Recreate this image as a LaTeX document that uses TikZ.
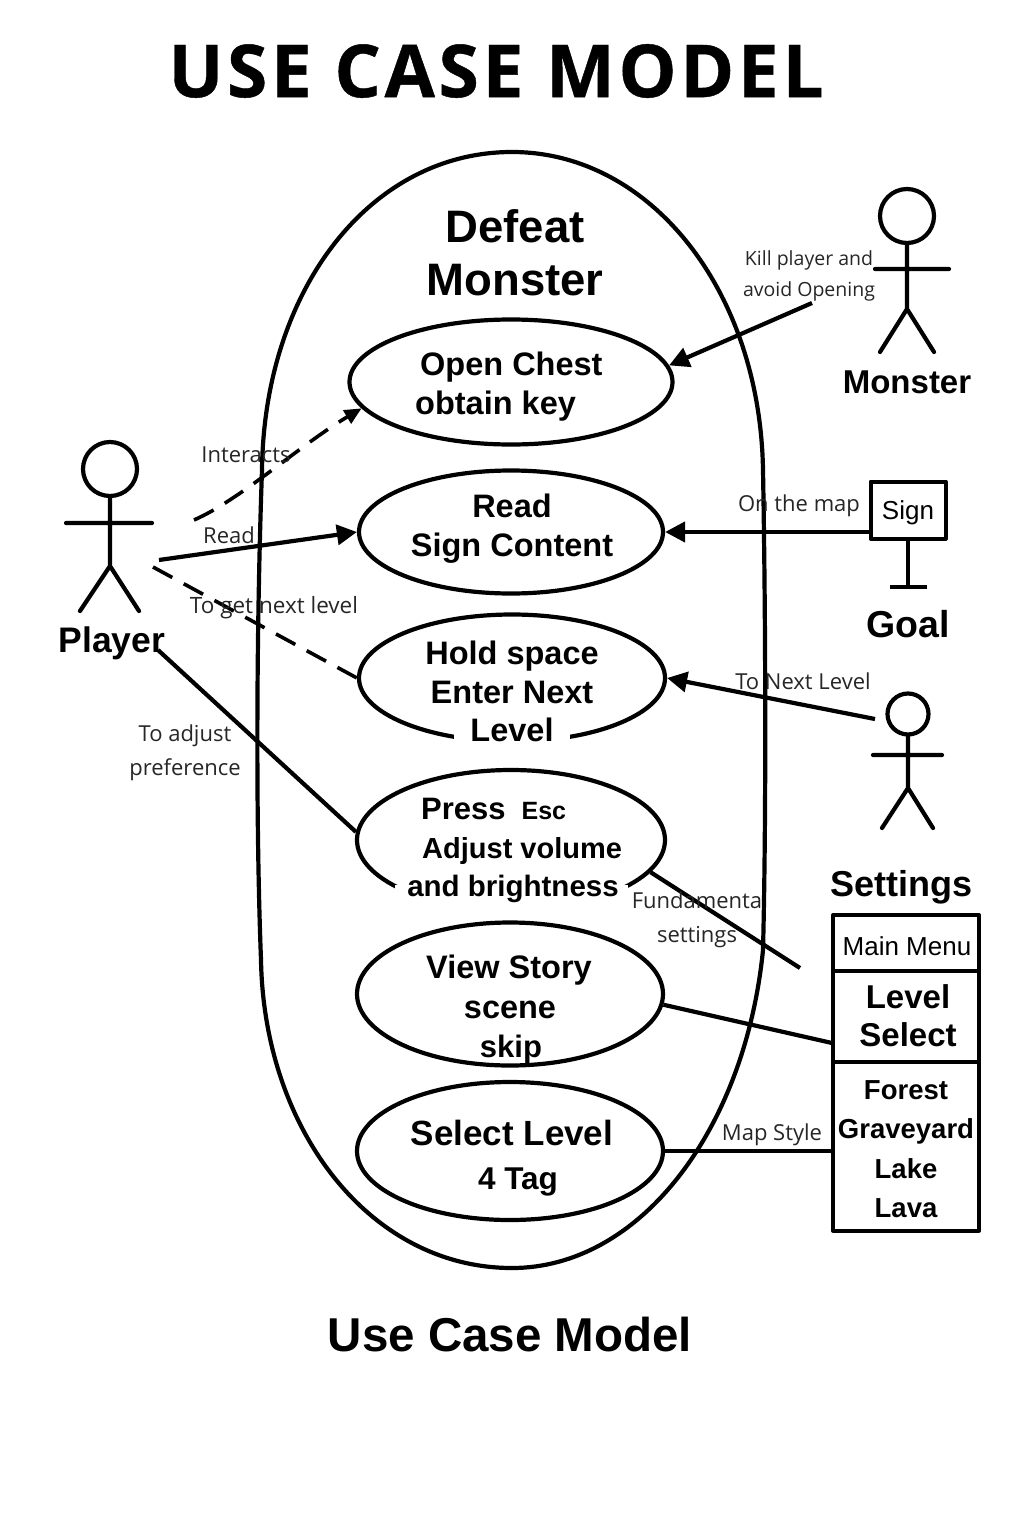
\documentclass[tikz,border=0pt]{standalone}
\usepackage{fontspec}
\setmainfont{Liberation Sans}
\newfontfamily\titlefont[LetterSpace=5,BoldFeatures={FakeBold=0.6}]{Open Sans}
\newfontfamily\labfont{Open Sans}
\usetikzlibrary{shapes.geometric,arrows.meta}
\newcommand{\fsz}[1]{\fontsize{#1}{#1}\selectfont}
\tikzset{
 ln/.style={line width=4.2pt,black},
 uc/.style={draw,ellipse,line width=4.2pt,inner sep=0pt,fill=white},
 big/.style={align=center,inner sep=0pt},
 med/.style={font=\fontsize{32.5}{39}\selectfont\bfseries,align=center,inner sep=0pt},
 lab/.style={font=\labfont\fontsize{22}{34}\selectfont,align=center,inner sep=0pt,text=black!85},
 box/.style={draw,line width=4pt,fill=white},
 arr/.style={ln,-{Triangle[length=20pt,width=20pt]}},
 dsh/.style={ln,line width=3.6pt,dash pattern=on 22pt off 13pt},
}
\begin{document}
\begin{tikzpicture}[x=1pt,y=-1pt,line join=round]
\useasboundingbox (0,0) rectangle (1024,1536);
\node[inner sep=0pt,font=\titlefont\bfseries\fontsize{73}{80}\selectfont] (title) at (496,71) {USE CASE MODEL};
% system boundary
\draw[ln] (512,152) .. controls (370,152) and (264,290) .. (262,470)
 .. controls (256,640) and (256,830) .. (261,960)
 .. controls (264,1130) and (370,1268) .. (512,1268)
 .. controls (640,1268) and (745,1130) .. (763,950)
 .. controls (766,830) and (766,640) .. (763,470)
 .. controls (760,290) and (650,152) .. (512,152) -- cycle;
\node[big,font=\fontsize{45.5}{53}\selectfont\bfseries] (sys) at (515,253) {Defeat\\Monster};
% use cases
\node[uc,minimum width=323pt,minimum height=125pt] (uc1) at (511,382) {};
\node[uc,minimum width=304pt,minimum height=123pt] (uc2) at (511,532) {};
\node[uc,minimum width=306pt,minimum height=127pt] (uc3) at (512,678) {};
\node[uc,minimum width=308pt,minimum height=140pt] (uc4) at (511,840) {};
\node[uc,minimum width=306pt,minimum height=143pt] (uc5) at (510,994) {};
\node[uc,minimum width=306pt,minimum height=138pt] (uc6) at (510,1151) {};
\fill[white] (395,885) rectangle (628,915);
\node[med,anchor=west] (t1a) at (420,367) {Open Chest};
\node[med,anchor=west] (t1b) at (415,406) {obtain key};
\node[med] (t2) at (512,529) {Read\\Sign Content};
\node[med,fill=white,inner xsep=16pt,minimum height=30pt] (t3c) at (512,730) {Level};
\node[med] (t3) at (512,672) {Hold space\\Enter Next};
\node[med,anchor=west,font=\fontsize{31}{38}\selectfont\bfseries] (t4a) at (421,809) {Press\hspace{16pt}{\fsz{25}Esc}};
\node[med,anchor=west,font=\fontsize{29}{38}\selectfont\bfseries] (t4b) at (422,851) {Adjust volume};
\node[med,font=\fontsize{29.5}{38}\selectfont\bfseries] (t4c) at (513,889) {and brightness};
\node[med] (t5) at (509,970) {View Story};
\node[med] (t5b) at (510,1010) {scene};
\node[med,font=\fontsize{31}{38}\selectfont\bfseries] (t5c) at (511,1049) {skip};
\node[med,font=\fontsize{35}{40}\selectfont\bfseries] (t6) at (512,1133) {Select Level};
\node[med,font=\fontsize{31.5}{38}\selectfont\bfseries] (t6b) at (518,1182) {4 Tag};
% player
\node[draw,circle,line width=4.2pt,minimum size=54pt,inner sep=0pt] (ph) at (110,469) {};
\coordinate (pc) at (110,566);
\coordinate (pa) at (66,523); \coordinate (pb) at (152,523);
\coordinate (pl) at (80,611); \coordinate (pr) at (139,611);
\draw[ln,line cap=round] (ph.south) -- (pc) (pa) -- (pb) (pl) -- (pc) -- (pr);
\node[big,font=\fontsize{35.5}{40}\selectfont\bfseries] (player) at (112,643) {Player};
% monster
\node[draw,circle,line width=4.2pt,minimum size=54pt,inner sep=0pt] (mh) at (907,216) {};
\coordinate (mc) at (907,309); \coordinate (ma) at (875,269); \coordinate (mb) at (949,269);
\coordinate (ml) at (880,352); \coordinate (mr) at (934,352);
\draw[ln,line cap=round] (mh.south) -- (mc) (ma) -- (mb) (ml) -- (mc) -- (mr);
\node[big,font=\fontsize{33}{40}\selectfont\bfseries] (monster) at (907,382) {Monster};
% sign
\node[box,minimum width=75pt,minimum height=57pt,inner sep=0pt] (sign) at (908,510) {};
\node[inner sep=0pt,font=\fontsize{26}{30}\selectfont] (signt) at (908,513) {Sign};
\coordinate (sb) at (908,587); \coordinate (sl) at (890,587); \coordinate (sr) at (927,587);
\draw[ln] (sign.south) -- (sb) (sl) -- (sr);
\node[big,font=\fontsize{37.5}{40}\selectfont\bfseries] (goal) at (908,624) {Goal};
% settings actor
\node[draw,circle,line width=4.2pt,minimum size=41pt,inner sep=0pt] (sh) at (908,714) {};
\coordinate (sc) at (908,788); \coordinate (sa) at (873,755); \coordinate (sbb) at (942,755);
\coordinate (sll) at (882,828); \coordinate (srr) at (933,828);
\draw[ln,line cap=round] (sh.south) -- (sc) (sa) -- (sbb) (sll) -- (sc) -- (srr);
\node[big,font=\fontsize{36}{40}\selectfont\bfseries] (settings) at (901,887) {Settings};
% menu
\node[box,minimum width=146pt,minimum height=56pt,inner sep=0pt] (mm) at (906,943) {};
\node[inner sep=0pt,font=\fontsize{26}{30}\selectfont] (mmt) at (907,946) {Main Menu};
\node[box,minimum width=146pt,minimum height=91pt,inner sep=0pt] (ls) at (906,1016) {};
\node[inner sep=0pt,align=center,font=\fontsize{33}{38}\selectfont\bfseries] (lst) at (908,1016) {Level\\Select};
\node[box,minimum width=146pt,minimum height=169pt,inner sep=0pt] (lv) at (906,1146) {};
\node[inner sep=0pt,font=\fontsize{27.5}{39.5}\selectfont\bfseries,align=center] (lvt) at (906,1149) {Forest\\Graveyard\\Lake\\Lava};
% connectors
\coordinate (p1) at (194,520);
\draw[dsh,-{Triangle[length=17pt,width=15pt]}] (p1) .. controls (240,500) and (300,445) .. (uc1.190);
\coordinate (p2) at (159,560);
\draw[arr] (p2) -- (uc2.west);
\coordinate (p3) at (153,567);
\draw[dsh] (p3) -- (uc3.west);
\coordinate (p4) at (158,650);
\draw[ln] (p4) -- (uc4.177);
\coordinate (m1) at (812,303);
\draw[arr] (m1) -- (uc1.6);
\draw[arr] (sign.west |- uc2.east) -- (uc2.east);
\coordinate (s1) at (875,719);
\draw[arr] (s1) -- (uc3.east);
\coordinate (f1) at (800,968);
\draw[ln] (uc4.-13) -- (f1);
\coordinate (ls1) at (832,1043);
\draw[ln] (uc5.-4) -- (ls1);
\draw[ln] (uc6.east) -- (lv.west |- uc6.east);
% labels
\node[lab] (l1) at (246,455) {Interacts};
\node[lab] (l2) at (229,535) {Read};
\node[lab,font=\labfont\fontsize{22.5}{34}\selectfont] (l3) at (274,608) {To get next level};
\node[lab] (l4) at (185,753) {To adjust\\preference};
\node[lab,font=\labfont\fontsize{19.5}{31}\selectfont] (l5) at (809,276) {Kill player and\\avoid Opening};
\node[lab] (l6) at (799,506) {On the map};
\node[lab] (l7) at (803,681) {To Next Level};
\node[lab] (l8) at (697,920) {Fundamenta\\settings};
\node[lab] (l9) at (772,1135) {Map Style};
\node[big,font=\fontsize{47.5}{50}\selectfont\bfseries] (cap) at (510,1335) {Use Case Model};
\end{tikzpicture}
\end{document}
